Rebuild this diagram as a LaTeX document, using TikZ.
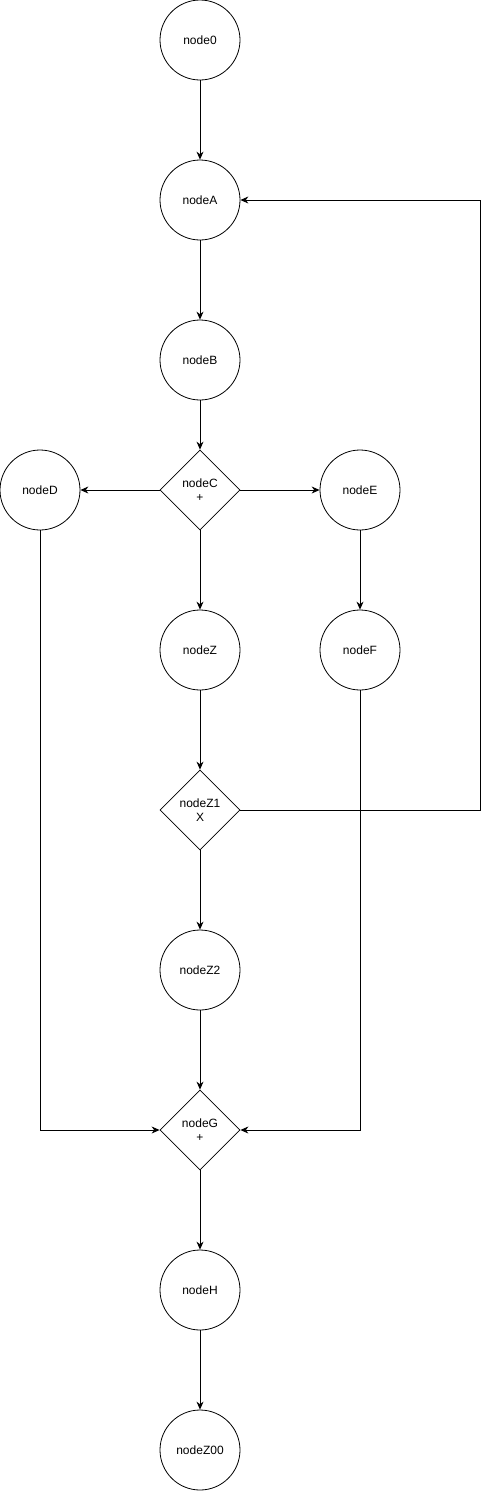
\documentclass[tikz,border=0pt]{standalone}
\usepackage{fontspec}
\setmainfont{Liberation Sans}
\usepackage{tikz}
\usetikzlibrary{arrows.meta,shapes.geometric}
\tikzset{
  state/.style={draw,circle,minimum size=80pt,inner sep=0pt,line width=0.8pt,font=\fontsize{12}{14}\selectfont},
  gate/.style={draw,diamond,minimum size=80pt,inner sep=0pt,aspect=1,line width=0.8pt,align=center,font=\fontsize{12}{14}\selectfont},
  flow/.style={-{Stealth[length=8pt,width=7pt]},line width=0.8pt}
}

\begin{document}
\begin{tikzpicture}[x=1pt,y=-1pt]
      \useasboundingbox (0,0) rectangle (491,1492);
      \node[state] (n0) at (200,40) {node0};
      \node[state] (A) at (200,200) {nodeA};
      \node[state] (B) at (200,360) {nodeB};
      \node[gate] (C) at (200,490) {nodeC\\+};
      \node[state] (D) at (40,490) {nodeD};
      \node[state] (E) at (360,490) {nodeE};
      \node[state] (Z) at (200,650) {nodeZ};
      \node[state] (F) at (360,650) {nodeF};
      \node[gate] (Z1) at (200,810) {nodeZ1\\X};
      \node[state] (Z2) at (200,970) {nodeZ2};
      \node[gate] (G) at (200,1130) {nodeG\\+};
      \node[state] (H) at (200,1290) {nodeH};
      \node[state] (Z00) at (200,1450) {nodeZ00};

      \coordinate (loop) at (480,810);

      \draw[flow] (n0) -- (A);
      \draw[flow] (A) -- (B);
      \draw[flow] (B) -- (C);
      \draw[flow] (C) -- (D);
      \draw[flow] (C) -- (E);
      \draw[flow] (C) -- (Z);
      \draw[flow] (E) -- (F);
      \draw[flow] (Z) -- (Z1);
      \draw[flow] (Z1) -- (Z2);
      \draw[flow] (Z1) -- (loop) |- (A);
      \draw[flow] (Z2) -- (G);
      \draw[flow] (D) |- (G);
      \draw[flow] (F) |- (G);
      \draw[flow] (G) -- (H);
      \draw[flow] (H) -- (Z00);
    \end{tikzpicture}
\end{document}
